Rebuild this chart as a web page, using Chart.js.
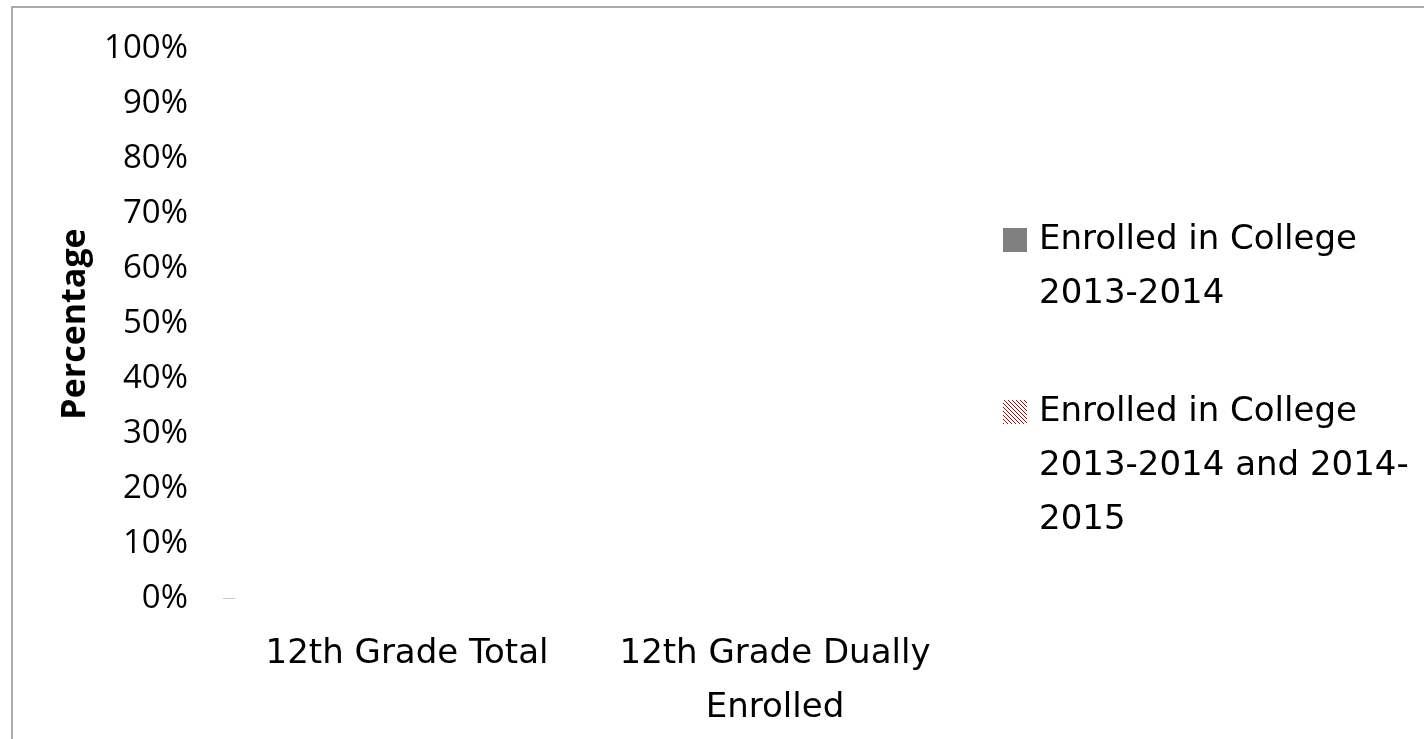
<!DOCTYPE html>
<html>
<head>
<meta charset="utf-8">
<script src="https://cdn.jsdelivr.net/npm/chart.js@4/dist/chart.umd.min.js"></script>
<style>
  html, body { margin: 0; padding: 0; background: #fff; }
  #wrap { position: relative; width: 1424px; height: 739px; overflow: hidden; }
  #frame { position: absolute; left: 11px; top: 6px; width: 1500px; height: 800px; border: 2px solid #ababab; box-sizing: border-box; }
  canvas { position: absolute; left: 0; top: 0; }
</style>
</head>
<body>
<div id="wrap">
  <div id="frame"></div>
  <canvas id="c" width="1424" height="739"></canvas>
</div>
<script>
const categories = ["12th Grade Total", ["12th Grade Dually", "Enrolled"]];
const seriesNames = [["Enrolled in College", "2013-2014"], ["Enrolled in College", "2013-2014 and 2014-", "2015"]];
const enrolled2013 = [0, 0];
const enrolledBoth = [0, 0];
const yTicks = [0, 10, 20, 30, 40, 50, 60, 70, 80, 90, 100];

const FONT = "'Open Sans', sans-serif";
const LFONT = "'DejaVu Sans', sans-serif";

function makeHatch() {
  const p = document.createElement('canvas');
  p.width = 4; p.height = 4;
  const g = p.getContext('2d');
  g.fillStyle = '#ffffff'; g.fillRect(0, 0, 4, 4);
  g.fillStyle = '#c00000';
  for (let i = 0; i < 4; i++) g.fillRect(i, i, 1, 1);
  return document.getElementById('c').getContext('2d').createPattern(p, 'repeat');
}
const hatch = makeHatch();

const legendPlugin = {
  id: 'sideLegend',
  afterDraw(chart) {
    const ctx = chart.ctx;
    const x0 = chart.chartArea.right + 44;
    const lineH = 54;
    let y = 240;
    ctx.save();
    ctx.font = "34px " + LFONT;
    ctx.textBaseline = 'middle';
    ctx.textAlign = 'left';
    chart.data.datasets.forEach((ds, i) => {
      ctx.fillStyle = ds.backgroundColor;
      ctx.fillRect(x0, y - 12, 24, 24);
      ctx.fillStyle = '#000';
      ds.label.forEach((line, k) => ctx.fillText(line, x0 + 36, y + k * lineH));
      y += ds.label.length * lineH + 64;
    });
    ctx.restore();
  }
};

const zeroTickPlugin = {
  id: 'zeroTick',
  afterDraw(chart) {
    const ctx = chart.ctx;
    const ys = chart.scales.y.getPixelForValue(0);
    ctx.save();
    ctx.strokeStyle = '#c8c8c8';
    ctx.lineWidth = 1;
    ctx.beginPath();
    ctx.moveTo(chart.chartArea.left, Math.round(ys) - 0.5);
    ctx.lineTo(chart.chartArea.left + 12, Math.round(ys) - 0.5);
    ctx.stroke();
    ctx.restore();
  }
};

new Chart(document.getElementById('c'), {
  type: 'bar',
  data: {
    labels: categories,
    datasets: [
      { label: seriesNames[0], data: enrolled2013, backgroundColor: '#808080', borderWidth: 0 },
      { label: seriesNames[1], data: enrolledBoth, backgroundColor: hatch, borderWidth: 0 }
    ]
  },
  options: {
    responsive: false,
    animation: false,
    layout: { padding: { left: 0, right: 465, top: 0, bottom: 0 } },
    plugins: { legend: { display: false }, tooltip: { enabled: false } },
    scales: {
      x: {
        afterFit(s) { s.height = 140; },
        grid: { display: false, drawTicks: false },
        border: { display: false },
        ticks: { color: '#000', font: { family: LFONT, size: 34, lineHeight: 1.59 }, padding: 28, maxRotation: 0, autoSkip: false }
      },
      y: {
        min: 0, max: 100,
        afterFit(s) { s.width = 223; },
        afterBuildTicks(s) { s.ticks = yTicks.map(v => ({ value: v })); },
        grid: { display: false, drawTicks: false },
        border: { display: false },
        ticks: { color: '#000', font: { family: FONT, size: 33, lineHeight: 0.848 }, padding: 35, callback: v => v + '%' },
        title: { display: true, text: 'Percentage', color: '#000', font: { family: FONT, size: 34, weight: 'bold' }, padding: { top: 55, bottom: 0 } }
      }
    }
  },
  plugins: [legendPlugin, zeroTickPlugin]
});
</script>
</body>
</html>
